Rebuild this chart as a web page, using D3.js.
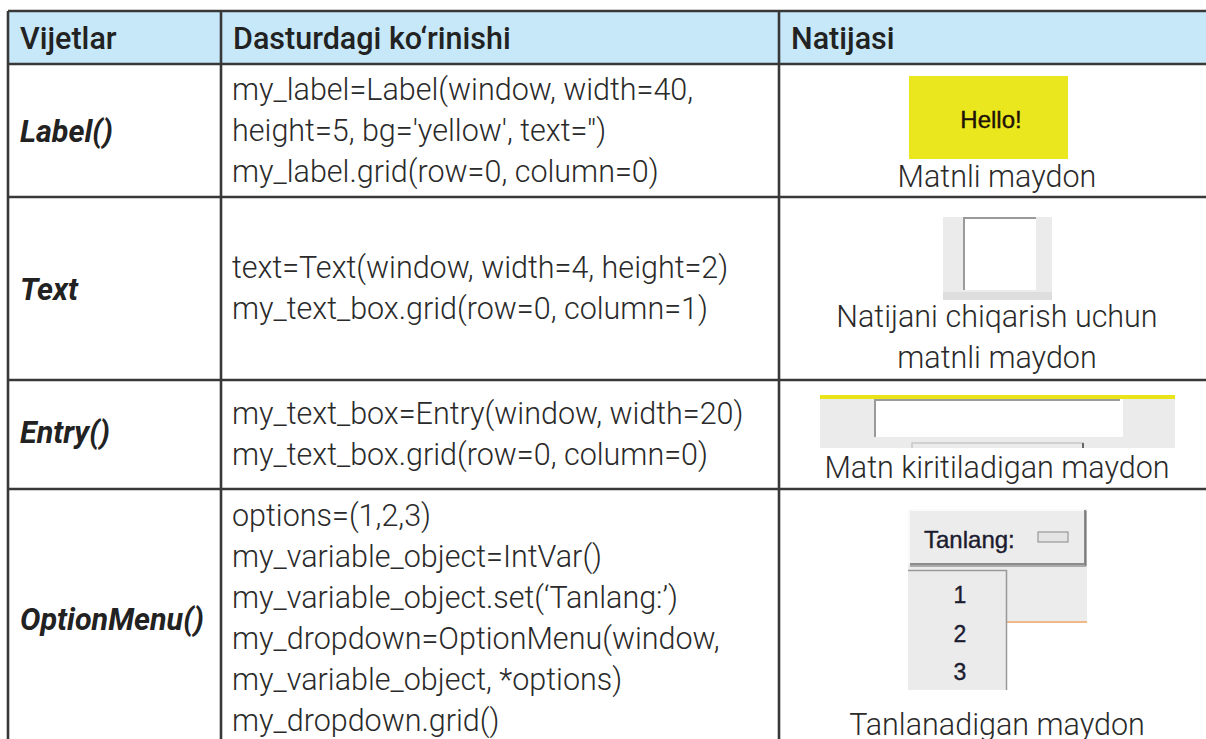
<!DOCTYPE html>
<html><head><meta charset="utf-8">
<script src="https://cdn.jsdelivr.net/npm/d3@7"></script>
<style>
html,body{margin:0;padding:0;background:#fff;overflow:hidden;}
svg{display:block;}
</style></head>
<body>
<svg id="chart" width="1206" height="739"></svg>
<script>
// ---- data ----
const headers = ["Vijetlar", "Dasturdagi ko\u2018rinishi", "Natijasi"];
const widgets = ["Label()", "Text", "Entry()", "OptionMenu()"];
const codeLines = [
  ["my_label=Label(window, width=40,", "height=5, bg='yellow', text='')", "my_label.grid(row=0, column=0)"],
  ["text=Text(window, width=4, height=2)", "my_text_box.grid(row=0, column=1)"],
  ["my_text_box=Entry(window, width=20)", "my_text_box.grid(row=0, column=0)"],
  ["options=(1,2,3)", "my_variable_object=IntVar()", "my_variable_object.set(\u2018Tanlang:\u2019)", "my_dropdown=OptionMenu(window,", "my_variable_object, *options)", "my_dropdown.grid()"]
];
const captions = [
  ["Matnli maydon"],
  ["Natijani chiqarish uchun", "matnli maydon"],
  ["Matn kiritiladigan maydon"],
  ["Tanlanadigan maydon"]
];
const labelText = "Hello!";
const optionTitle = "Tanlang:";
const optionItems = ["1", "2", "3"];

// ---- layout ----
const colEdges = [8, 221, 779, 1217];
const rowEdges = [11, 64, 197, 380, 489, 770];
const lineGap = 41;
const svg = d3.select("#chart");
const BODY = "Roboto, 'Noto Sans', sans-serif";
const FS = 30.5;
const FSC = 30.5;

// header background
svg.append("rect").attr("x", colEdges[0]).attr("y", rowEdges[0])
  .attr("width", colEdges[3] - colEdges[0]).attr("height", rowEdges[1] - rowEdges[0])
  .attr("fill", "#c6e8f8");

// header text
svg.selectAll("text.h").data(headers).join("text").attr("class", "h")
  .attr("x", (d, i) => colEdges[i] + 12).attr("y", 49)
  .attr("font-family", BODY).attr("font-weight", 500).attr("font-size", FS)
  .attr("fill", "#222").text(d => d);

// widget names
const labelBase = [142, 300, 443, 630];
svg.selectAll("text.w").data(widgets).join("text").attr("class", "w")
  .attr("x", colEdges[0] + 12)
  .attr("y", (d, i) => labelBase[i])
  .attr("font-family", BODY).attr("font-weight", 700).attr("font-style", "italic")
  .attr("font-size", FS).attr("fill", "#222").text(d => d);

// code lines
codeLines.forEach((lines, r) => {
  const top = rowEdges[r + 1], bot = rowEdges[r + 2];
  let first;
  if (r === 3) first = 526;
  else first = (top + bot) / 2 - (lines.length - 1) * lineGap / 2 + 10;
  svg.append("g").selectAll("text").data(lines).join("text")
    .attr("x", colEdges[1] + 11).attr("y", (d, i) => first + i * lineGap)
    .attr("font-family", BODY).attr("font-weight", 300).attr("font-size", FSC)
    .attr("fill", "#2a2a2a").text(d => d);
});

// captions
const cx = (colEdges[2] + colEdges[3]) / 2 - 1;
const capBase = [[187], [327, 368], [478], [735]];
captions.forEach((lines, r) => {
  svg.append("g").selectAll("text").data(lines).join("text")
    .attr("x", cx).attr("y", (d, i) => capBase[r][i]).attr("text-anchor", "middle")
    .attr("font-family", BODY).attr("font-weight", 300).attr("font-size", FS)
    .attr("fill", "#2a2a2a").text(d => d);
});

// ---- result pictures ----
const WIN = "'Liberation Sans', 'DejaVu Sans', sans-serif";
// 1 Label
const g1 = svg.append("g");
g1.append("rect").attr("x", 909).attr("y", 76).attr("width", 159).attr("height", 83).attr("fill", "#ebe71e");
g1.append("text").attr("x", 991).attr("y", 128).attr("text-anchor", "middle")
  .attr("font-family", WIN).attr("font-size", 24).attr("fill", "#1e1208")
  .attr("stroke", "#1e1208").attr("stroke-width", 0.4).text(labelText);

// 2 Text
const g2 = svg.append("g");
g2.append("rect").attr("x", 943).attr("y", 217).attr("width", 109).attr("height", 83).attr("fill", "#ebebeb");
g2.append("rect").attr("x", 963).attr("y", 217).attr("width", 73).attr("height", 73).attr("fill", "#fff");
g2.append("path").attr("d", "M964,290 V218 H1036").attr("fill", "none").attr("stroke", "#9a9a9a").attr("stroke-width", 2);
g2.append("rect").attr("x", 943).attr("y", 292).attr("width", 109).attr("height", 8).attr("fill", "#dedede");

// 3 Entry
const g3 = svg.append("g");
g3.append("rect").attr("x", 820).attr("y", 395).attr("width", 355).attr("height", 53).attr("fill", "#ebebeb");
g3.append("rect").attr("x", 820).attr("y", 395).attr("width", 355).attr("height", 4).attr("fill", "#e9e41a");
g3.append("rect").attr("x", 874).attr("y", 399).attr("width", 249).attr("height", 38).attr("fill", "#fff");
g3.append("path").attr("d", "M875,437 V400 H1120").attr("fill", "none").attr("stroke", "#9a9a9a").attr("stroke-width", 2);
g3.append("path").attr("d", "M912,448 V443 H1083 V448").attr("fill", "none").attr("stroke", "#c8c8c8").attr("stroke-width", 1.5);
g3.append("path").attr("d", "M1083,443 V448").attr("stroke", "#666").attr("stroke-width", 2);

// 4 OptionMenu
const g4 = svg.append("g");
g4.append("rect").attr("x", 908).attr("y", 509).attr("width", 179).attr("height", 114).attr("fill", "#ececec");
g4.append("path").attr("d", "M1007,622 H1087").attr("stroke", "#f0a868").attr("stroke-width", 1.5);
g4.append("path").attr("d", "M909,564 V510 H1085").attr("fill", "none").attr("stroke", "#fafafa").attr("stroke-width", 2);
g4.append("path").attr("d", "M910,564 H1085 V510").attr("fill", "none").attr("stroke", "#8c8c8c").attr("stroke-width", 2);
g4.append("path").attr("d", "M910,566 H1086 V511").attr("fill", "none").attr("stroke", "#6a6a6a").attr("stroke-width", 1);
g4.append("text").attr("x", 924).attr("y", 548).attr("font-family", WIN).attr("font-size", 24)
  .attr("fill", "#1c1c30").attr("stroke", "#1c1c30").attr("stroke-width", 0.4).text(optionTitle);
g4.append("rect").attr("x", 1038).attr("y", 532).attr("width", 30).attr("height", 10)
  .attr("fill", "#e4e4e4").attr("stroke", "#888").attr("stroke-width", 1);
g4.append("rect").attr("x", 908).attr("y", 570).attr("width", 99).attr("height", 120).attr("fill", "#ebebeb");
g4.append("path").attr("d", "M908,570.5 H1006.5 V690").attr("fill", "none").attr("stroke", "#999").attr("stroke-width", 1.5);
const itemY = d3.scalePoint().domain(optionItems).range([603, 680]);
g4.selectAll("text.it").data(optionItems).join("text").attr("class", "it")
  .attr("x", 960).attr("y", d => itemY(d)).attr("text-anchor", "middle")
  .attr("font-family", WIN).attr("font-size", 23).attr("fill", "#1c1c30")
  .attr("stroke", "#1c1c30").attr("stroke-width", 0.4).text(d => d);

// ---- grid lines ----
const lines = svg.append("g").attr("stroke", "#383838").attr("stroke-width", 2.6);
lines.selectAll("line.v").data(colEdges.slice(0, 3)).join("line").attr("class", "v")
  .attr("x1", d => d).attr("x2", d => d).attr("y1", rowEdges[0]).attr("y2", 739);
lines.selectAll("line.r").data(rowEdges.slice(0, 5)).join("line").attr("class", "r")
  .attr("x1", colEdges[0]).attr("x2", 1206).attr("y1", d => d).attr("y2", d => d);
</script>
</body></html>
